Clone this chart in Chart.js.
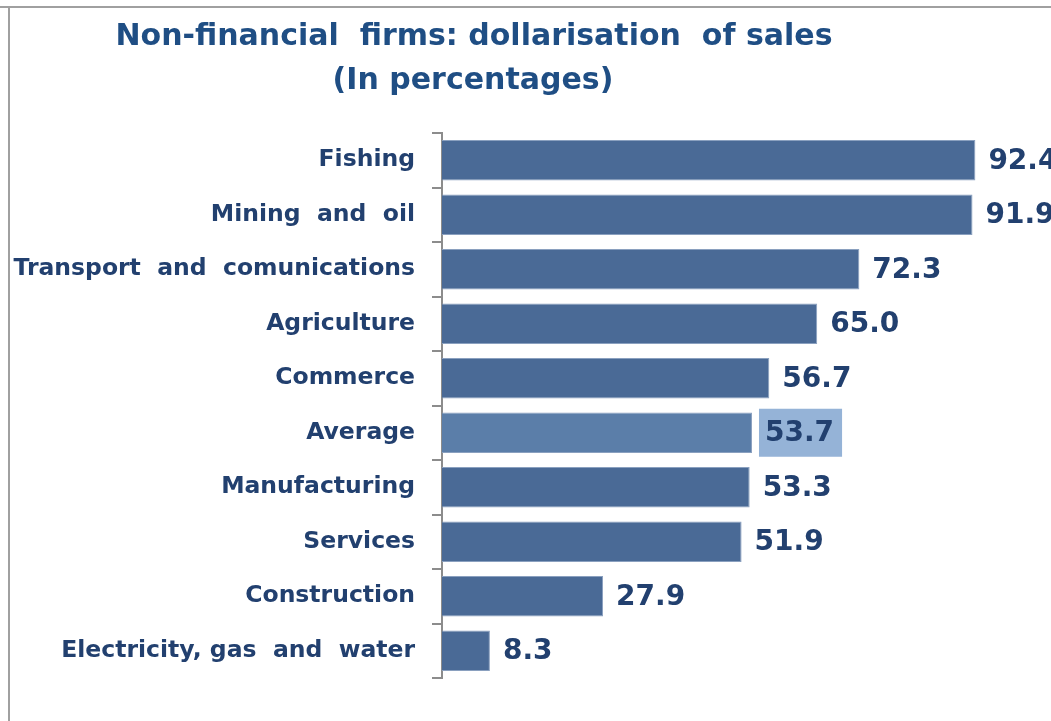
<!DOCTYPE html>
<html>
<head>
<meta charset="utf-8">
<title>Non-financial firms: dollarisation of sales</title>
<script src="https://cdn.jsdelivr.net/npm/chart.js@4.4.1/dist/chart.umd.min.js"></script>
<style>
    html, body { margin: 0; padding: 0; background: #fff; overflow: hidden; }
    #wrap { position: relative; width: 1051px; height: 721px; }
</style>
</head>
<body>
<div id="wrap"><canvas id="sales-chart" width="1051" height="721"></canvas></div>
<script>
// Chart data

const categories = [
    "Fishing",
    "Mining  and  oil",
    "Transport  and  comunications",
    "Agriculture",
    "Commerce",
    "Average",
    "Manufacturing",
    "Services",
    "Construction",
    "Electricity, gas  and  water"
];
const salesShare = [92.4, 91.9, 72.3, 65.0, 56.7, 53.7, 53.3, 51.9, 27.9, 8.3];
const titleLines = ["Non-financial  firms: dollarisation  of sales", "(In percentages)"];
const highlightCategory = "Average";

const barColor = "#4a6a96";
const highlightColor = "#5b7ea9";
const textColor = "#22406f";

// Grey frame round the picture (left and top edges only)
const framePlugin = {
    id: "frame",
    beforeDraw(chart) {
        const ctx = chart.ctx;
        ctx.save();
        ctx.strokeStyle = "#a0a0a0";
        ctx.lineWidth = 2;
        ctx.beginPath();
        ctx.moveTo(0, 7);
        ctx.lineTo(chart.width, 7);
        ctx.moveTo(9, 7);
        ctx.lineTo(9, chart.height);
        ctx.stroke();
        ctx.restore();
    }
};

// Two-line title, centred over the left part of the picture
const titlePlugin = {
    id: "twoLineTitle",
    afterDraw(chart) {
        const ctx = chart.ctx;
        ctx.save();
        ctx.fillStyle = "#1f4e84";
        ctx.font = "bold 30px 'DejaVu Sans'";
        ctx.textAlign = "center";
        ctx.textBaseline = "middle";
        ctx.fillText(titleLines[0], 474, 37);
        ctx.fillText(titleLines[1], 473, 81);
        ctx.restore();
    }
};

// Value labels at the end of each bar
const valueLabelPlugin = {
    id: "valueLabels",
    afterDatasetsDraw(chart) {
        const ctx = chart.ctx;
        const meta = chart.getDatasetMeta(0);
        ctx.save();
        ctx.font = "bold 28px 'DejaVu Sans'";
        ctx.textBaseline = "middle";
        meta.data.forEach((bar, i) => {
            const text = salesShare[i].toFixed(1);
            const x = bar.x + 13;
            if (categories[i] === highlightCategory) {
                const w = ctx.measureText(text).width;
                ctx.fillStyle = "#95b3d7";
                ctx.fillRect(x - 6, bar.y - 24, w + 14, 48);
            }
            ctx.fillStyle = textColor;
            ctx.fillText(text, x, bar.y + 1);
        });
        ctx.restore();
    }
};

const ctx = document.getElementById("sales-chart").getContext("2d");

new Chart(ctx, {
    type: "bar",
    data: {
        labels: categories,
        datasets: [{
            data: salesShare,
            backgroundColor: categories.map(c => c === highlightCategory ? highlightColor : barColor),
            borderColor: "#8aa0bf",
            borderWidth: 1,
            categoryPercentage: 1.0,
            barPercentage: 0.74
        }]
    },
    options: {
        indexAxis: "y",
        responsive: false,
        animation: false,
        layout: {
            padding: { top: 133, bottom: 43, left: 0, right: 0 }
        },
        scales: {
            x: {
                display: false,
                min: 0,
                max: 105.5
            },
            y: {
                afterFit(scale) {
                    scale.width = 442;
                },
                grid: {
                    drawOnChartArea: false,
                    tickLength: 10,
                    color: "#8c8c8c",
                    lineWidth: 2
                },
                border: {
                    color: "#8c8c8c",
                    width: 2
                },
                ticks: {
                    padding: 17,
                    color: textColor,
                    font: { family: "'DejaVu Sans'", size: 23.5, weight: "bold" }
                }
            }
        },
        plugins: {
            legend: { display: false },
            tooltip: { enabled: false },
            title: { display: false }
        }
    },
    plugins: [framePlugin, titlePlugin, valueLabelPlugin]
});
</script>
</body>
</html>
